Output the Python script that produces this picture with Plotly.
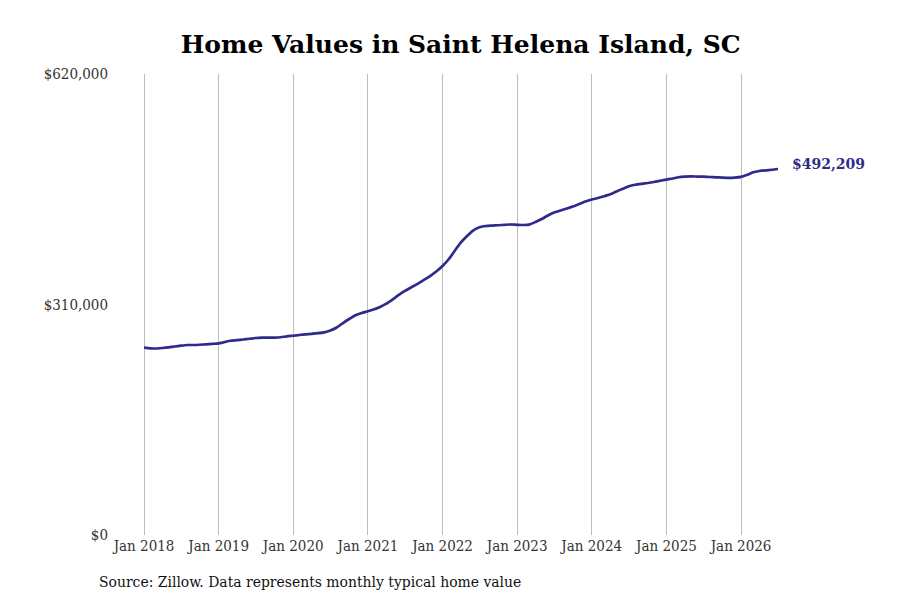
import pandas as pd
import plotly.graph_objects as go

# monthly typical home value, Jan 2018 onwards
months = pd.date_range("2018-01-01", periods=103, freq="MS")
values = [
    251900, 251100, 250800, 251500, 252400, 253500, 254600, 255500, 255500, 255900, 256500, 257100,
    257800, 259600, 261200, 262000, 262900, 263900, 264900, 265400, 265400, 265500, 266000, 267200,
    268000, 269000, 269800, 270600, 271400, 272600, 275000, 279100, 285100, 290500, 295500, 298600,
    300900, 303500, 306600, 311200, 316700, 322800, 328200, 333100, 337800, 343000, 348300, 354400,
    361800, 371200, 382000, 393400, 402100, 409800, 413800, 415600, 416100, 416600, 417200, 417600,
    417200, 416900, 417500, 421000, 425000, 429700, 433700, 436400, 439100, 441800, 445200, 448500,
    451200, 453200, 455500, 458200, 462000, 465600, 469000, 471000, 472300, 473400, 474800, 476400,
    478000, 479400, 481100, 482000, 482300, 482100, 481900, 481500, 481100, 480700, 480400, 480700,
    481700, 484400, 487800, 489500, 490500, 491200, 492209,
]
tick_dates = pd.date_range("2018-01-01", "2026-01-01", freq="YS")
tick_text = [d.strftime("Jan %Y") for d in tick_dates]
y_ticks = [0, 310000, 620000]
y_text = ["$0", "$310,000", "$620,000"]

line_color = "#2e2b8b"
serif = "DejaVu Serif Condensed, DejaVu Serif, serif"

fig = go.Figure()
fig.add_trace(go.Scatter(x=months, y=values, mode="lines",
                         line=dict(color=line_color, width=2.7, shape="spline", smoothing=0.6),
                         hoverinfo="x+y", showlegend=False))

# label for the latest value
fig.add_annotation(x=months[-1], y=values[-1], text="<b>$" + f"{values[-1]:,}" + "</b>",
                   showarrow=False, xanchor="left", yanchor="middle", xshift=12, yshift=5,
                   font=dict(family="DejaVu Serif", size=14, color=line_color))

fig.add_annotation(x=-0.0238, y=-0.102, xref="paper", yref="paper", xanchor="left", yanchor="middle",
                   text="Source: Zillow. Data represents monthly typical home value", showarrow=False,
                   font=dict(family=serif, size=15.5, color="#111111"))

fig.update_layout(
    width=900, height=600,
    paper_bgcolor="white", plot_bgcolor="white",
    margin=dict(l=107, r=38, t=66, b=73),
    title=dict(text="<b>Home Values in Saint Helena Island, SC</b>", x=0.503, xanchor="center",
               y=0.94, yanchor="middle", font=dict(family="DejaVu Serif", size=25, color="black")),
    xaxis=dict(range=["2017-08-12", "2027-09-24"], tickvals=tick_dates, ticktext=tick_text,
               showgrid=True, gridcolor="#bdbdbd", gridwidth=1, zeroline=False, showline=False,
               ticks="", tickfont=dict(family=serif, size=15, color="#333333")),
    yaxis=dict(range=[0, 620000], tickvals=y_ticks, ticktext=y_text, showgrid=False,
               zeroline=False, showline=False, ticks="", ticklabelstandoff=6,
               tickfont=dict(family=serif, size=15, color="#333333")),
)

fig.write_html("out.html")
